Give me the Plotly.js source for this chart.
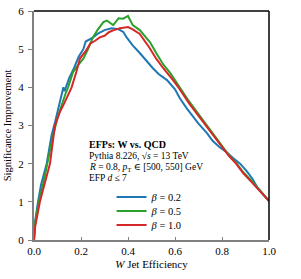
<!DOCTYPE html>
<html>
<head>
<meta charset="utf-8">
<script src="https://cdn.plot.ly/plotly-3.0.1.min.js"></script>
<style>html,body{margin:0;padding:0;background:#fff;}</style>
</head>
<body>
<div id="chart" style="width:301px;height:279px;"></div>
<script>
// beta = 0.2
const xB02 = [0, 0.005, 0.017, 0.03, 0.054, 0.075, 0.09, 0.1, 0.115, 0.125, 0.13, 0.15, 0.17, 0.19, 0.21, 0.22, 0.25, 0.27, 0.3, 0.33, 0.36, 0.38, 0.395, 0.42, 0.45, 0.47, 0.49, 0.506, 0.53, 0.566, 0.6, 0.62, 0.65, 0.677, 0.7, 0.736, 0.76, 0.79, 0.82, 0.847, 0.877, 0.906, 0.93, 0.95, 0.975, 1.0];
const yB02 = [0, 0.5, 1.0, 1.45, 2.0, 2.75, 3.1, 3.35, 3.7, 4.0, 3.9, 4.25, 4.5, 4.8, 5.0, 5.2, 5.3, 5.4, 5.5, 5.55, 5.52, 5.45, 5.3, 5.1, 4.9, 4.75, 4.6, 4.5, 4.35, 4.19, 3.95, 3.72, 3.45, 3.22, 3.05, 2.8, 2.6, 2.43, 2.3, 2.15, 2.0, 1.8, 1.6, 1.38, 1.2, 1.02];
// beta = 0.5
const xB05 = [0, 0.005, 0.02, 0.04, 0.06, 0.08, 0.1, 0.12, 0.135, 0.145, 0.166, 0.19, 0.21, 0.23, 0.25, 0.27, 0.295, 0.31, 0.337, 0.36, 0.38, 0.40, 0.42, 0.45, 0.494, 0.52, 0.55, 0.58, 0.62, 0.66, 0.7, 0.736, 0.77, 0.8, 0.83, 0.86, 0.89, 0.93, 0.95, 0.975, 1.0];
const yB05 = [0, 0.45, 1.0, 1.5, 2.1, 2.7, 3.2, 3.6, 3.85, 4.0, 4.4, 4.6, 4.75, 5.0, 5.3, 5.5, 5.71, 5.75, 5.63, 5.81, 5.8, 5.87, 5.63, 5.5, 5.18, 4.9, 4.6, 4.37, 4.0, 3.63, 3.3, 3.0, 2.72, 2.46, 2.22, 2.02, 1.78, 1.52, 1.38, 1.2, 1.03];
// beta = 1.0
const xB10 = [0, 0.005, 0.025, 0.045, 0.068, 0.089, 0.11, 0.13, 0.16, 0.18, 0.196, 0.22, 0.24, 0.26, 0.28, 0.3, 0.32, 0.34, 0.366, 0.4, 0.42, 0.45, 0.49, 0.52, 0.55, 0.59, 0.62, 0.66, 0.7, 0.736, 0.77, 0.8, 0.83, 0.86, 0.89, 0.93, 0.95, 0.975, 1.0];
const yB10 = [0, 0.35, 1.0, 1.5, 2.0, 3.0, 3.35, 3.6, 4.0, 4.4, 4.76, 4.95, 5.15, 5.22, 5.31, 5.35, 5.45, 5.5, 5.55, 5.58, 5.52, 5.4, 5.05, 4.75, 4.5, 4.2, 3.95, 3.58, 3.25, 2.96, 2.68, 2.43, 2.2, 2.0, 1.75, 1.49, 1.36, 1.18, 1.02];

const seriesNames = ["<i>β</i> = 0.2", "<i>β</i> = 0.5", "<i>β</i> = 1.0"];
const xTicks = [0, 0.2, 0.4, 0.6, 0.8, 1.0];
const yTicks = [0, 1, 2, 3, 4, 5, 6];
const infoLines = ["<b>EFPs: W vs. QCD</b>", "Pythia 8.226, √<i>s</i> = 13 TeV", "<i>R</i> = 0.8, <i>p</i><sub>T</sub> ∈ [500, 550] GeV", "EFP <i>d</i> ≤ 7"];

const FONT = "Liberation Serif, DejaVu Serif, serif";
const colors = ["#1f77b4", "#2ca02c", "#d62728"];
const legendIds = ["legend", "legend2", "legend3"];
const xs = [xB02, xB05, xB10], ys = [yB02, yB05, yB10];
const traces = xs.map((x, i) => ({
  x: x, y: ys[i], type: "scatter", mode: "lines", name: seriesNames[i],
  legend: legendIds[i],
  line: {color: colors[i], width: 2}
}));

const infoY = [0.418, 0.367, 0.318, 0.27];
const annotations = infoLines.map((t, i) => ({
  text: t, xref: "paper", yref: "paper", x: 0.225, y: infoY[i],
  xanchor: "left", yanchor: "middle", showarrow: false,
  font: {family: FONT, size: i === 0 ? 10 : 9.5, color: "#000"}
}));

const legendY = [0.188, 0.127, 0.066];
const legendBase = {x: 0.33, xanchor: "left", yanchor: "middle", bgcolor: "rgba(0,0,0,0)",
                    font: {family: FONT, size: 10.5}, borderwidth: 0};

const layout = {
  width: 301, height: 279,
  margin: {l: 34, r: 32, t: 11, b: 39},
  paper_bgcolor: "#fff", plot_bgcolor: "#fff",
  font: {family: FONT, color: "#000"},
  showlegend: true,
  legend: Object.assign({}, legendBase, {y: legendY[0]}),
  legend2: Object.assign({}, legendBase, {y: legendY[1]}),
  legend3: Object.assign({}, legendBase, {y: legendY[2]}),
  xaxis: {range: [0, 1], tickvals: xTicks, ticktext: xTicks.map(v => v.toFixed(1)),
          showgrid: false, zeroline: false, showline: true, linecolor: "#808080", linewidth: 2,
          ticks: "inside", ticklen: 3, tickcolor: "#808080", tickwidth: 1,
          tickfont: {family: FONT, size: 11},
          title: {text: "<i>W</i> Jet Efficiency", font: {family: FONT, size: 11}, standoff: 4}},
  yaxis: {range: [0, 6], tickvals: yTicks,
          showgrid: false, zeroline: false, showline: true, linecolor: "#808080", linewidth: 2,
          ticks: "outside", ticklen: 4, tickcolor: "#808080", tickwidth: 1,
          ticklabelstandoff: 2,
          tickfont: {family: FONT, size: 11},
          title: {text: "Significance Improvement", font: {family: FONT, size: 10.5}, standoff: 5}},
  annotations: annotations,
  shapes: [
    {type: "line", xref: "paper", yref: "paper", x0: 0, x1: 1, y0: 1, y1: 1, line: {color: "#000", width: 1.5}},
    {type: "line", xref: "paper", yref: "paper", x0: 1, x1: 1, y0: 0, y1: 1, line: {color: "#000", width: 1.5}}
  ]
};

Plotly.newPlot("chart", traces, layout, {displayModeBar: false, staticPlot: true});
</script>
</body>
</html>
